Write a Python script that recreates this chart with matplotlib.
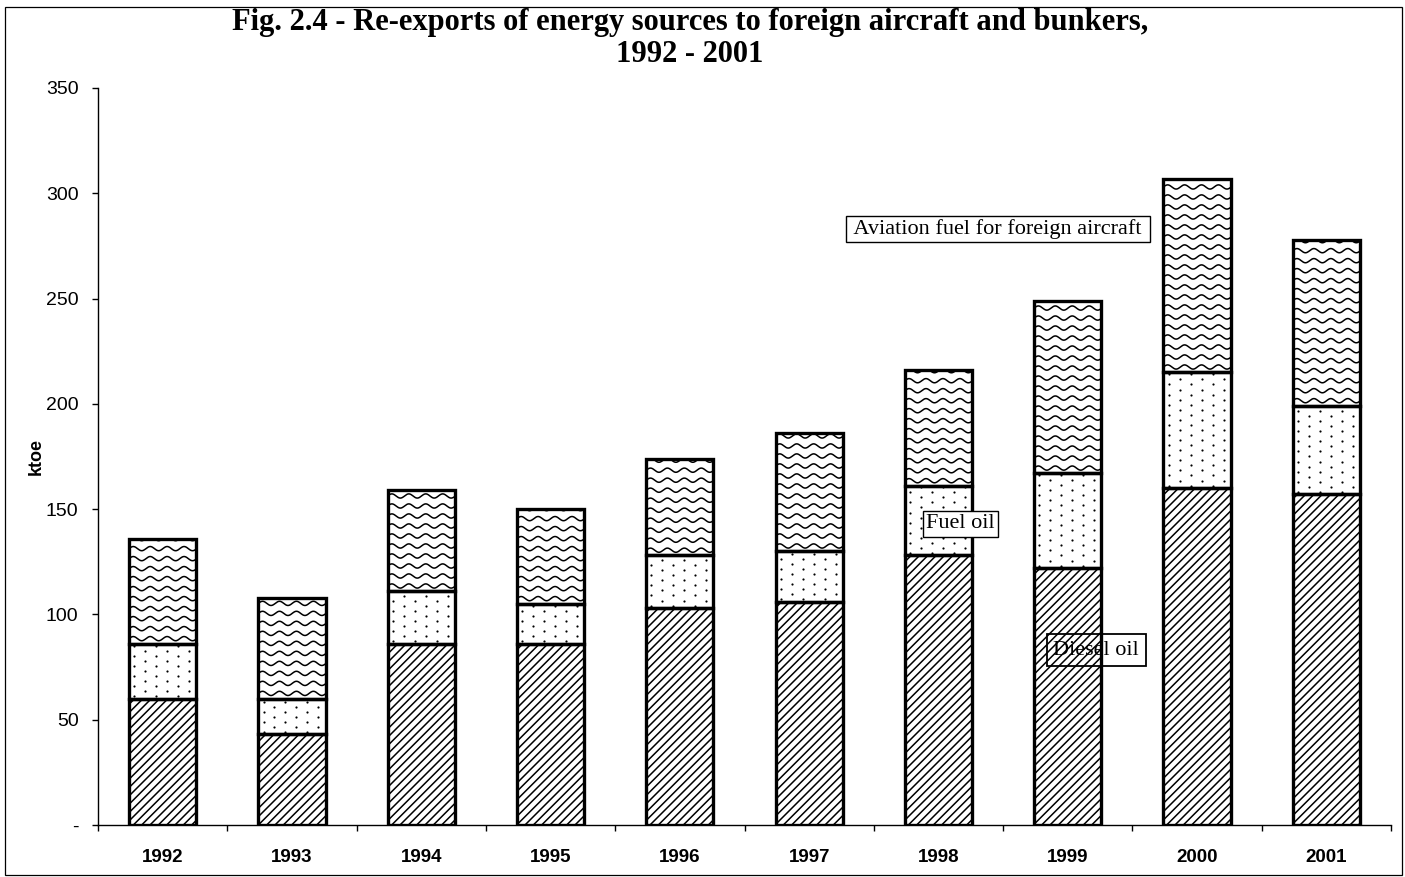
import numpy as np
import matplotlib
matplotlib.use("Agg")
import matplotlib.pyplot as plt
from matplotlib.patches import Rectangle

# Data (ktoe)
years = ["1992", "1993", "1994", "1995", "1996", "1997", "1998", "1999", "2000", "2001"]
diesel_oil = [60, 43, 86, 86, 103, 106, 128, 122, 160, 157]
fuel_oil = [26, 17, 25, 19, 25, 24, 33, 45, 55, 42]
aviation_fuel = [50, 48, 48, 45, 46, 56, 55, 82, 92, 79]

title = "Fig. 2.4 - Re-exports of energy sources to foreign aircraft and bunkers,\n1992 - 2001"

plt.rcParams["hatch.linewidth"] = 1.1

fig = plt.figure(figsize=(14.05, 8.77), dpi=100)
ax = fig.add_axes([98 / 1405, 1 - 825 / 877, 1293 / 1405, 737 / 877])

x = np.arange(len(years))
d = np.array(diesel_oil)
f = np.array(fuel_oil)
a = np.array(aviation_fuel)
w = 0.52

bars_d = ax.bar(x, d, w, color="white", edgecolor="black", hatch="////", linewidth=0, zorder=1)
bars_f = ax.bar(x, f, w, bottom=d, color="white", linewidth=0, zorder=1)
bars_a = ax.bar(x, a, w, bottom=d + f, color="white", linewidth=0, zorder=1)

# dotted fill for fuel oil
for p in bars_f:
    x0, y0 = p.get_x(), p.get_y()
    rows = np.arange(y0 + 1.2, y0 + p.get_height(), 2.4)
    px, py = [], []
    for i, ry in enumerate(rows):
        off = 0.04 + (0.085 if i % 2 else 0)
        cols = np.arange(x0 + off, x0 + p.get_width(), 0.17)
        px.extend(cols)
        py.extend([ry] * len(cols))
    sc = ax.scatter(px, py, s=2.5, color="black", linewidths=0, zorder=1.5)
    sc.set_clip_path(p)

# wavy fill for aviation fuel
for p in bars_a:
    x0, y0 = p.get_x(), p.get_y()
    xs = np.linspace(x0, x0 + p.get_width(), 200)
    for ry in np.arange(y0 + 2.5, y0 + p.get_height() + 2, 4.75):
        ln, = ax.plot(xs, ry + 1.0 * np.sin(2 * np.pi * (xs - x0) / 0.131),
                      color="black", lw=1.1, zorder=1.5)
        ln.set_clip_path(p)

# outlines on top
for b, bot in [(d, 0), (f, d), (a, d + f)]:
    ax.bar(x, b, w, bottom=bot, fill=False, edgecolor="black", linewidth=2.4, zorder=2)

ax.set_xlim(-0.5, len(years) - 0.5)
ax.set_ylim(0, 350)

ax.spines["top"].set_visible(False)
ax.spines["right"].set_visible(False)
ax.spines["left"].set_linewidth(1.0)
ax.spines["bottom"].set_linewidth(1.0)

ax.set_yticks(np.arange(0, 351, 50))
ax.set_yticklabels(["-"] + [str(v) for v in range(50, 351, 50)],
                   fontfamily="Liberation Sans", fontsize=14)
ax.tick_params(axis="y", direction="out", length=4, width=1, pad=10)

ax.set_xticks(x)
ax.set_xticklabels(years, fontfamily="Liberation Sans", fontsize=13.5, fontweight="bold")
ax.set_xticks(np.arange(-0.5, len(years), 1), minor=True)
ax.tick_params(axis="x", which="major", length=0, pad=17)
ax.tick_params(axis="x", which="minor", direction="out", length=4, width=1)

ax.set_ylabel("ktoe", fontfamily="Liberation Sans", fontsize=13, fontweight="bold", labelpad=1)

fig.text(0.491, 1 - 8 / 877, title, ha="center", va="top", fontfamily="Liberation Serif",
         fontsize=22, fontweight="bold", linespacing=1.12)

box = dict(boxstyle="square,pad=0.15", facecolor="white", edgecolor="black", linewidth=1.0)
ax.text(6.46, 283, " Aviation fuel for foreign aircraft ", ha="center", va="center",
        fontfamily="Liberation Serif", fontsize=16, bbox=box, zorder=3)
ax.text(6.17, 143, "Fuel oil", ha="center", va="center",
        fontfamily="Liberation Serif", fontsize=16, bbox=box, zorder=3)
ax.text(7.22, 83, "Diesel oil", ha="center", va="center",
        fontfamily="Liberation Serif", fontsize=16,
        bbox=dict(boxstyle="square,pad=0.3", facecolor="none", edgecolor="black", linewidth=1.3),
        zorder=3)

# frame around the whole chart
fig.patches.append(Rectangle((5 / 1405, 0.002), 1397 / 1405, 1 - 9 / 877,
                             transform=fig.transFigure, fill=False,
                             edgecolor="black", linewidth=0.9))

fig.savefig("out.png", dpi=100)
